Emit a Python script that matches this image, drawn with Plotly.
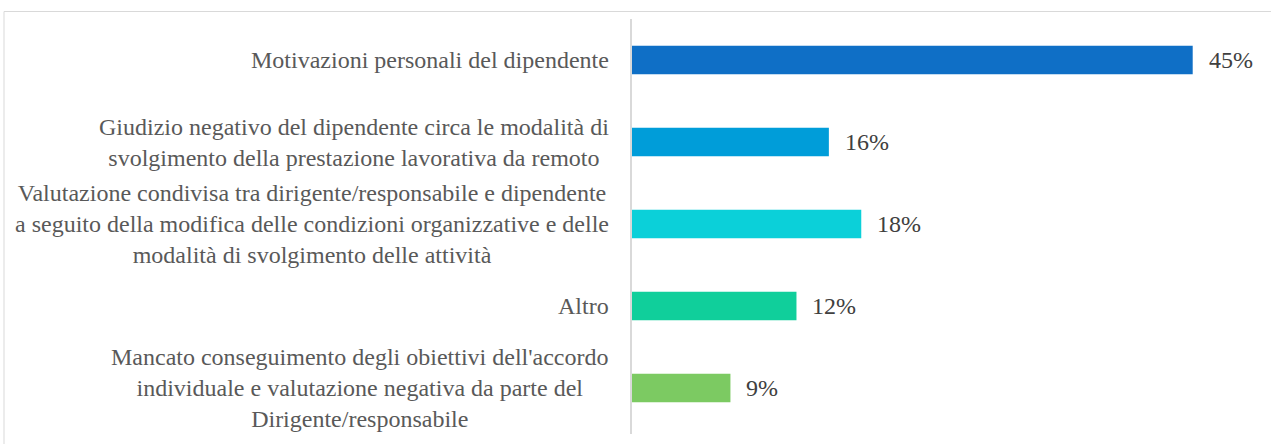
import plotly.graph_objects as go

# categories top -> bottom
categories = [
    "Motivazioni personali del dipendente",
    "Giudizio negativo del dipendente circa le modalità di<br>svolgimento della prestazione lavorativa da remoto",
    "Valutazione condivisa tra dirigente/responsabile e dipendente<br>a seguito della modifica delle condizioni organizzative e delle<br>modalità di svolgimento delle attività",
    "Altro",
    "Mancato conseguimento degli obiettivi dell'accordo<br>individuale e valutazione negativa da parte del<br>Dirigente/responsabile",
]
values = [45.0, 15.8, 18.4, 13.2, 7.9]          # bar lengths as drawn
value_labels = ["45%", "16%", "18%", "12%", "9%"]
colors = ["#0F6FC6", "#009DD9", "#0BD0D9", "#10CF9B", "#7CCA62"]

FONT = "Liberation Serif"
W, H = 1271, 444
L, R, T, B = 632, 16, 19, 10

fig = go.Figure(go.Bar(
    x=values, y=categories, orientation="h",
    marker=dict(color=colors, line_width=0),
    hoverinfo="skip",
))

annotations = []
for cat, v, lbl in zip(categories, values, value_labels):
    # category text: centred lines, block right-aligned against the axis
    annotations.append(dict(x=0, xref="paper", y=cat, yref="y", text=cat,
                            xanchor="right", xshift=-21, align="center",
                            showarrow=False,
                            font=dict(family=FONT, size=24, color="#595959")))
    annotations.append(dict(x=v, xref="x", y=cat, yref="y", text=lbl,
                            xanchor="left", xshift=14, showarrow=False,
                            font=dict(family=FONT, size=24, color="#404040")))

pw = W - L - R
ph = H - T - B
fig.add_shape(type="rect", xref="paper", yref="paper",
              x0=(4 - L) / pw, x1=1.1, y0=-0.1, y1=1 + (T - 11.5) / ph,
              line=dict(color="#D9D9D9", width=1), layer="below")

fig.update_layout(
    width=W, height=H,
    margin=dict(l=L, r=R, t=T, b=B, pad=0),
    plot_bgcolor="white", paper_bgcolor="white",
    bargap=0.65, showlegend=False,
    annotations=annotations,
    font=dict(family=FONT),
    xaxis=dict(range=[0, 50], visible=False, fixedrange=True),
    yaxis=dict(autorange="reversed", showticklabels=False, ticks="",
               showgrid=False, zeroline=False, showline=True,
               linecolor="#D9D9D9", linewidth=2, layer="below traces"),
)

# the page body has an 8px margin by default; drop it so the chart sits at 0,0
fig.write_html("out.html", config={"displayModeBar": False},
               post_script="document.body.style.margin='0';")
